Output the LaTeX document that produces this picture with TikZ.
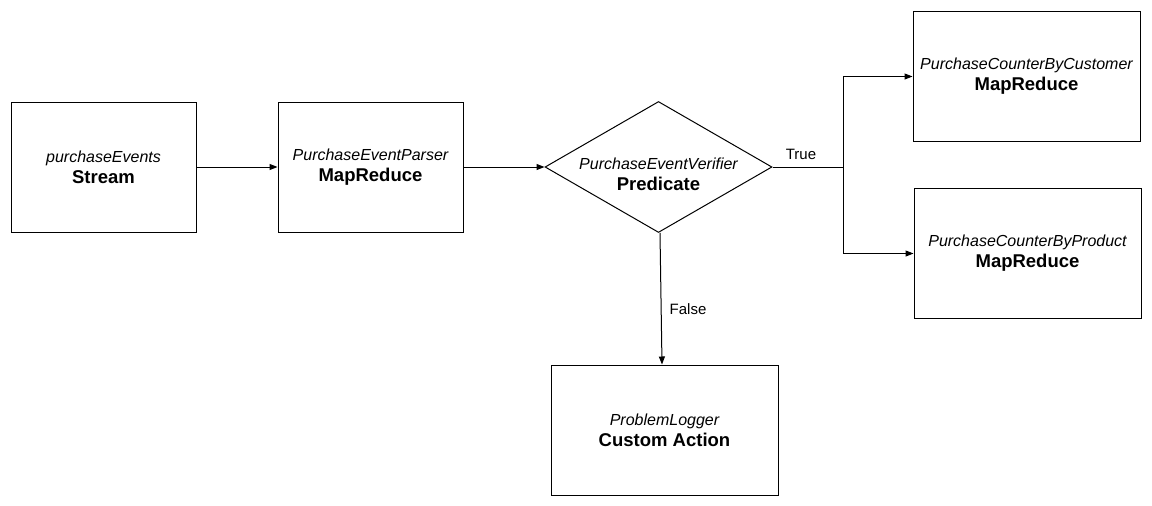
\documentclass[tikz,border=0pt]{standalone}
\usepackage{fontspec}
\setmainfont{Liberation Sans}
\usetikzlibrary{arrows.meta,shapes.geometric,calc}
\begin{document}
\begin{tikzpicture}[x=1pt,y=-1pt,
  box/.style={draw,line width=1pt,minimum width=#1,minimum height=130pt,inner sep=0pt,align=center,font=\fontsize{16}{21}\selectfont},
  box/.default=185pt,
  dia/.style={draw,diamond,line width=1pt,minimum width=227pt,minimum height=131pt,inner sep=0pt},
  txt/.style={align=center,font=\fontsize{16}{21}\selectfont,inner sep=0pt},
  conn/.style={line width=1pt,-{Triangle[length=8pt,width=6pt]}},
  lbl/.style={font=\fontsize{15}{17}\selectfont,inner sep=0pt}]
\useasboundingbox (0,0) rectangle (1152,506);
\newcommand{\twol}[2]{{\itshape #1}\\{\fontsize{18.5}{21}\selectfont\bfseries #2}}
\node[box] (stream) at (103.5,167) {\twol{purchaseEvents}{Stream}};
\node[box] (parser) at (370.5,167) {\twol{PurchaseEventParser}{MapReduce}};
\node[dia] (ver) at (658.5,167) {};
\node[txt] (vertext) at (658.5,174) {\twol{PurchaseEventVerifier}{Predicate}};
\node[box=227pt] (logger) at (664.5,430) {\twol{ProblemLogger}{Custom Action}};
\node[box=227pt] (cust) at (1026.5,76.5) {\twol{PurchaseCounterByCustomer}{MapReduce}};
\node[box=227pt] (prod) at (1027.5,253.5) {\twol{PurchaseCounterByProduct}{MapReduce}};
\coordinate (split) at (843,167);
\draw[conn] (stream.east) -- (parser.west);
\draw[conn] (parser.east) -- (ver.west);
\draw[line width=1pt] (ver.east) -- (split);
\draw[conn] (split) |- (cust.west);
\draw[conn] (split) |- (prod.west);
\draw[conn] ($(ver.south)+(1.5,0)$) -- ($(logger.north)+(-2.5,0)$);
\node[lbl] (truelbl) at (801,154) {True};
\node[lbl] (falselbl) at (688,309) {False};
\end{tikzpicture}
\end{document}
